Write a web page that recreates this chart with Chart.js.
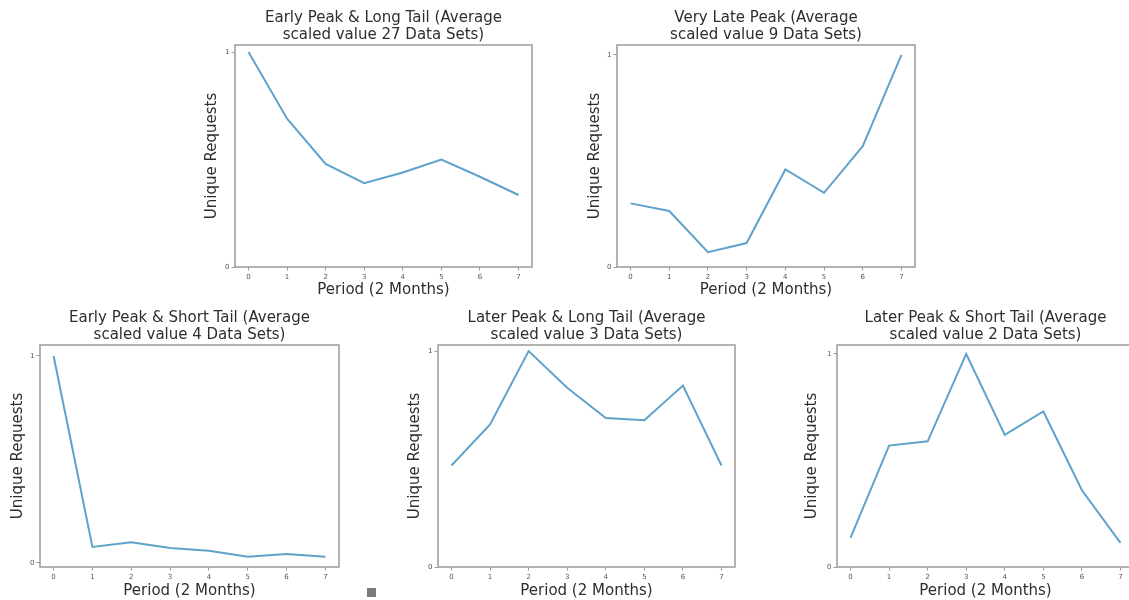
<!DOCTYPE html>
<html>
<head>
<meta charset="utf-8">
<script src="https://cdn.jsdelivr.net/npm/chart.js@4.4.1/dist/chart.umd.min.js"></script>
<style>
  html, body { margin: 0; padding: 0; background: #fff; }
  body { width: 1129px; height: 600px; overflow: hidden; position: relative; }
  canvas { position: absolute; }
  #marca { position: absolute; left: 367px; top: 588px; width: 9px; height: 9px; background: #7a7a7a; }
</style>
</head>
<body>
<canvas id="c1"></canvas>
<canvas id="c2"></canvas>
<canvas id="c3"></canvas>
<canvas id="c4"></canvas>
<canvas id="c5"></canvas>
<div id="marca"></div>
<script>
// Dados (valores normalizados, máximo = 1)
const periodos = [0, 1, 2, 3, 4, 5, 6, 7];
const ticksY = [0, 1];

const earlyLong  = [1.0, 0.69, 0.48, 0.39, 0.44, 0.50, 0.42, 0.335];
const veryLate   = [0.30, 0.264, 0.07, 0.113, 0.46, 0.35, 0.57, 1.0];
const earlyShort = [1.0, 0.077, 0.10, 0.072, 0.058, 0.03, 0.043, 0.03];
const laterLong  = [0.47, 0.66, 1.0, 0.83, 0.69, 0.68, 0.84, 0.47];
const laterShort = [0.137, 0.57, 0.59, 1.0, 0.62, 0.73, 0.36, 0.113];

const titulos = [
    ["Early Peak & Long Tail (Average", "scaled value 27 Data Sets)"],
    ["Very Late Peak (Average", "scaled value 9 Data Sets)"],
    ["Early Peak & Short Tail (Average", "scaled value 4 Data Sets)"],
    ["Later Peak & Long Tail (Average", "scaled value 3 Data Sets)"],
    ["Later Peak & Short Tail (Average", "scaled value 2 Data Sets)"]
];

const FONTE = "'DejaVu Sans', sans-serif";
const COR_TEXTO = '#2e2e2e';

// Desenha a moldura completa da área do gráfico (estilo matplotlib)
const moldura = {
    id: 'moldura',
    afterDraw(chart) {
        const { ctx, chartArea: a } = chart;
        ctx.save();
        ctx.strokeStyle = '#9a9a9a';
        ctx.lineWidth = 1.5;
        ctx.strokeRect(a.left, a.top, a.right - a.left, a.bottom - a.top);
        ctx.restore();
    }
};

// Posição de cada painel: moldura (l, r, b), centro do rótulo Y e limites do eixo Y
function criarPainel(id, valores, titulo, p) {
    const canvas = document.getElementById(id);
    const esquerda = p.yLabelX - 12;
    const largura = p.r + 8 - esquerda;
    canvas.width = largura;
    canvas.height = 300;
    canvas.style.left = esquerda + 'px';
    canvas.style.top = p.topo + 'px';
    canvas.style.width = largura + 'px';
    canvas.style.height = '300px';

    new Chart(canvas.getContext('2d'), {
        type: 'line',
        data: {
            datasets: [{
                data: periodos.map((x, i) => ({ x: x, y: valores[i] })),
                borderColor: '#5fa2cc',
                borderWidth: 2,
                pointRadius: 0,
                tension: 0,
                fill: false
            }]
        },
        options: {
            responsive: false,
            animation: false,
            layout: { padding: { left: 0, right: 8, top: 0, bottom: 0 } },
            plugins: {
                legend: { display: false },
                tooltip: { enabled: false },
                title: {
                    display: true,
                    fullSize: false, // título centrado sobre a área do gráfico
                    text: titulo,
                    color: COR_TEXTO,
                    font: { family: FONTE, size: 15, weight: 'normal', lineHeight: 17 / 15 },
                    padding: { top: 9.5, bottom: 1.5 }
                }
            },
            scales: {
                x: {
                    type: 'linear',
                    min: -0.35,
                    max: 7.35,
                    afterBuildTicks: (s) => { s.ticks = periodos.map(v => ({ value: v })); },
                    afterFit: (s) => { s.height = p.topo + 300 - p.b; },
                    grid: { drawOnChartArea: false, drawTicks: true, tickLength: 3.5, color: '#9a9a9a', tickColor: '#9a9a9a' },
                    border: { display: false },
                    ticks: { color: '#555', font: { family: FONTE, size: 7 }, padding: 2, maxRotation: 0 },
                    title: {
                        display: true,
                        text: 'Period (2 Months)',
                        color: COR_TEXTO,
                        font: { family: FONTE, size: 15, lineHeight: 1.2 },
                        padding: { top: 0, bottom: p.xPadBaixo }
                    }
                },
                y: {
                    min: p.yMin,
                    max: p.yMax,
                    afterBuildTicks: (s) => { s.ticks = ticksY.map(v => ({ value: v })); },
                    afterFit: (s) => { s.width = p.l - esquerda; },
                    grid: { drawOnChartArea: false, drawTicks: true, tickLength: 3.5, color: '#9a9a9a', tickColor: '#9a9a9a' },
                    border: { display: false },
                    ticks: { color: '#555', font: { family: FONTE, size: 7 }, padding: 2 },
                    title: {
                        display: true,
                        text: 'Unique Requests',
                        color: COR_TEXTO,
                        font: { family: FONTE, size: 15, lineHeight: 1.2 },
                        padding: { top: 3, bottom: 0 }
                    }
                }
            }
        },
        plugins: [moldura]
    });
}

criarPainel('c1', earlyLong, titulos[0], { l: 235, r: 532, b: 267, topo: 0, yLabelX: 212, yMin: 0, yMax: 1.033, xPadBaixo: 1 });
criarPainel('c2', veryLate, titulos[1], { l: 617, r: 915, b: 267, topo: 0, yLabelX: 595, yMin: 0, yMax: 1.047, xPadBaixo: 1 });
criarPainel('c3', earlyShort, titulos[2], { l: 40, r: 339, b: 567, topo: 300, yLabelX: 18, yMin: -0.02, yMax: 1.053, xPadBaixo: 0 });
criarPainel('c4', laterLong, titulos[3], { l: 438, r: 735, b: 567, topo: 300, yLabelX: 415, yMin: 0, yMax: 1.028, xPadBaixo: 0 });
criarPainel('c5', laterShort, titulos[4], { l: 837, r: 1134, b: 567, topo: 300, yLabelX: 812, yMin: 0, yMax: 1.042, xPadBaixo: 0 });
</script>
</body>
</html>
